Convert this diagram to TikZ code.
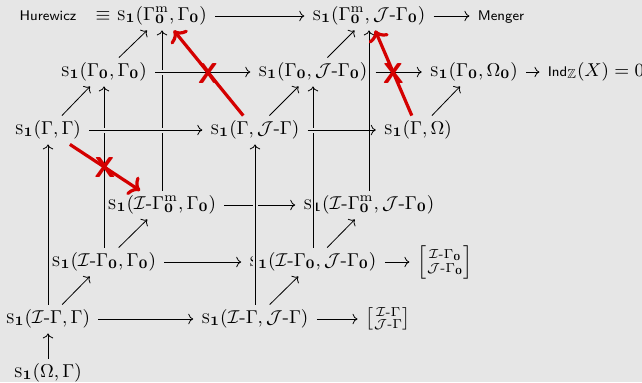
\RequirePackage{fix-cm}
\documentclass[tikz,border=0pt]{standalone}
\usepackage{amsmath,amssymb}
\usetikzlibrary{arrows.meta}
\definecolor{bg}{HTML}{E6E6E6}
\definecolor{nored}{HTML}{D40000}
\newcommand{\Sone}{\textsc{s}_{\mathbf 1}}
\newcommand{\Gz}{\Gamma_{\mathbf 0}}
\newcommand{\Gmz}{\Gamma^{\mathrm m}_{\mathbf 0}}
\newcommand{\Ih}{\mathcal{I}\text{-}}
\newcommand{\Jh}{\mathcal{J}\text{-}}
\newcommand{\smallsf}[1]{{\fontsize{7}{8}\selectfont\sffamily #1}}
\newcommand{\brk}[2]{\left[\!\begin{smallmatrix}#1\\ #2\end{smallmatrix}\!\right]}
\begin{document}
\begin{tikzpicture}[x=0.5pt,y=-0.5pt,
  font=\fontsize{9.3}{11}\selectfont,
  cell/.style={anchor=base, inner xsep=4pt, inner ysep=2pt, text height=7pt, text depth=3pt},
  mcell/.style={anchor=center, inner xsep=4pt, inner ysep=2pt},
  ar/.style={-{Computer Modern Rightarrow}, line width=0.4pt},
  over/.style={preaction={draw=bg, -, line width=2.5pt}},
  nogo/.style={-{Computer Modern Rightarrow}, draw=nored, line width=1.6pt},
  xmark/.style={text=nored, font=\Large\sffamily\bfseries, inner sep=0pt}]
\fill[bg] (0,0) rectangle (642,382);
\useasboundingbox (0,0) rectangle (642,382);
% row 1
\node[cell] (Hu) at (48,20) {\smallsf{Hurewicz}};
\node[cell] (eq) at (103,20) {$\equiv$};
\node[cell] (A) at (162,20) {$\Sone(\Gmz,\Gz)$};
\node[cell] (B) at (369,20) {$\Sone(\Gmz,\Jh\Gz)$};
\node[cell] (Me) at (501,20) {\smallsf{Menger}};
% row 2
\node[cell] (C) at (104,76) {$\Sone(\Gz,\Gz)$};
\node[cell] (D) at (313,76) {$\Sone(\Gz,\Jh\Gz)$};
\node[cell] (E) at (474,76) {$\Sone(\Gz,\Omega_{\mathbf 0})$};
\node[cell] (Ind) at (596,76) {$\text{\smallsf{Ind}}_{\mathbb Z}(X)=0$};
% row 3
\node[cell] (F) at (48,134) {$\Sone(\Gamma,\Gamma)$};
\node[cell] (G) at (255,134) {$\Sone(\Gamma,\Jh\Gamma)$};
\node[cell] (H) at (418,134) {$\Sone(\Gamma,\Omega)$};
% row 4
\node[cell] (I) at (162,209) {$\Sone(\Ih\Gmz,\Gz)$};
\node[cell] (J) at (369,209) {$\Sone(\Ih\Gmz,\Jh\Gz)$};
% row 5
\node[cell] (K) at (104,266) {$\Sone(\Ih\Gz,\Gz)$};
\node[cell] (L) at (313,266) {$\Sone(\Ih\Gz,\Jh\Gz)$};
\node[mcell] (M) at (445,262) {$\brk{\Ih\Gz}{\Jh\Gz}$};
% row 6
\node[cell] (N) at (48,323) {$\Sone(\Ih\Gamma,\Gamma)$};
\node[cell] (O) at (255,323) {$\Sone(\Ih\Gamma,\Jh\Gamma)$};
\node[mcell] (P) at (388,319) {$\brk{\Ih\Gamma}{\Jh\Gamma}$};
% row 7
\node[cell] (Q) at (48,377) {$\Sone(\Omega,\Gamma)$};
% plain arrows
\draw[ar] (Q) -- (N);
\draw[ar] (N) -- (F);
\draw[ar] (N) -- (O);
\draw[ar] (O) -- (P);
\draw[ar] (N) -- (K);
\draw[ar] (K) -- (I);
\draw[ar] (K) -- (L);
\draw[ar] (L) -- (M);
\draw[ar] (O) -- (L);
\draw[ar] (L) -- (J);
\draw[ar] (K) -- (C);
\draw[ar] (I) -- (A);
\draw[ar] (I) -- (J);
\draw[ar] (F) -- (C);
\draw[ar] (C) -- (A);
\draw[ar] (A) -- (B);
\draw[ar] (B) -- (Me);
\draw[ar] (G) -- (D);
\draw[ar] (D) -- (B);
\draw[ar] (D) -- (E);
\draw[ar] (E) -- (Ind);
\draw[ar] (H) -- (E);
% crossing-over arrows
\draw[ar,over] (C) -- (D);
\draw[ar,over] (O) -- (G);
\draw[ar,over] (L) -- (D);
\draw[ar,over] (F) -- (G);
\draw[ar,over] (G) -- (H);
\draw[ar] (J) -- (B);
% red crossed-out arrows
\draw[nogo] (F) -- (I) node[xmark,pos=0.5] {X};
\draw[nogo] (G) -- (A) node[xmark,pos=0.5] {X};
\draw[nogo] (H) -- (B) node[xmark,pos=0.5] {X};
\end{tikzpicture}
\end{document}
